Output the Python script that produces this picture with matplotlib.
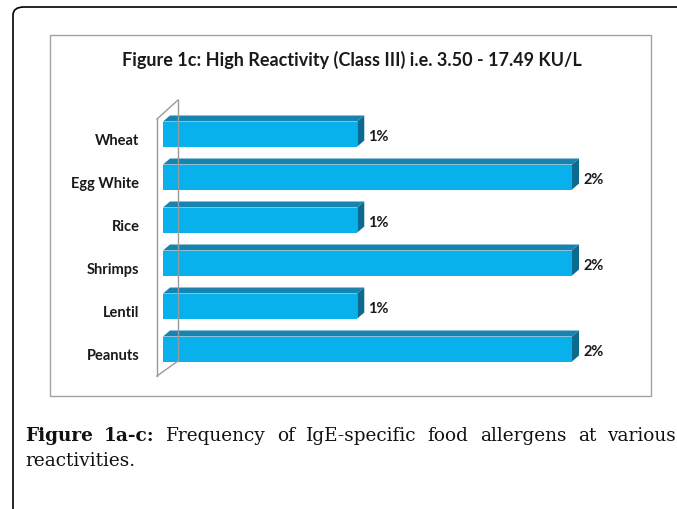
import numpy as np
import matplotlib
matplotlib.use("Agg")
import matplotlib.pyplot as plt
from matplotlib.patches import Polygon, FancyBboxPatch, Rectangle
from matplotlib.lines import Line2D

# data (top to bottom as shown)
foods = ["Wheat", "Egg White", "Rice", "Shrimps", "Lentil", "Peanuts"]
values = [0.95, 2.0, 0.95, 2.0, 0.95, 2.0]
labels = ["1%", "2%", "1%", "2%", "1%", "2%"]

title = "Figure 1c: High Reactivity (Class III) i.e. 3.50 - 17.49 KU/L"
cap_bold = "Figure 1a-c:"
cap_rest = "Frequency of IgE-specific food allergens at various"
cap_line2 = "reactivities."

W, H = 677, 510
fig = plt.figure(figsize=(W / 100, H / 100), dpi=100)


def px(x, y):
    return x / W, 1 - y / H


# outer rounded frame and inner chart border
outer = FancyBboxPatch(px(13, 560), (720 - 13) / W, (560 - 8) / H,
                       boxstyle="round,pad=0,rounding_size=0.016",
                       transform=fig.transFigure, fill=False,
                       ec="black", lw=1.2)
fig.patches.append(outer)
fig.patches.append(Rectangle(px(50, 397), (651 - 50) / W, (397 - 36) / H,
                             transform=fig.transFigure, fill=False,
                             ec="#a3a3a3", lw=1.0))

fig.text(*px(352, 60), title, ha="center", va="center", fontsize=13,
         fontweight="bold", family="Lato", color="#1a1a1a")

# 3d wall
wall = "#9a9a9a"
for (x1, y1), (x2, y2) in [((157, 120), (157, 377)), ((157, 120), (178, 101)),
                           ((178, 101), (178, 362)), ((157, 377), (178, 362))]:
    fig.lines.append(Line2D([x1 / W, x2 / W], [1 - y1 / H, 1 - y2 / H],
                            transform=fig.transFigure, color=wall, lw=1.0))

# bars
unit_x, unit_y = 204.5, 43.0
xmax, ylo, yhi = 2.3, -0.7, 5.7
left = 163
bottom = 350 + (0 - ylo) * unit_y
ax = fig.add_axes([left / W, 1 - bottom / H, xmax * unit_x / W,
                   (yhi - ylo) * unit_y / H])
ax.set_xlim(0, xmax)
ax.set_ylim(ylo, yhi)
ax.axis("off")

ypos = np.arange(len(foods))[::-1]
bh = 25 / unit_y
dx, dy = 7 / unit_x, 6 / unit_y
front, top, side = "#08b0ec", "#1784b0", "#0b6a8f"

ax.barh(ypos, values, height=bh, color=front, zorder=3)
for y, v, lab, name in zip(ypos, values, labels, foods):
    yt = y + bh / 2
    yb = y - bh / 2
    ax.add_patch(Polygon([(0, yt), (dx, yt + dy), (v + dx, yt + dy), (v, yt)],
                         closed=True, color=top, lw=0, zorder=3))
    ax.add_patch(Polygon([(v, yt), (v + dx, yt + dy), (v + dx, yb + dy), (v, yb)],
                         closed=True, color=side, lw=0, zorder=3))
    ax.annotate(lab, (v + dx, y), xytext=(3, -1.5), textcoords="offset points",
                ha="left", va="center", fontsize=10.5, fontweight="bold",
                family="Lato", color="#1a1a1a")
    ax.annotate(name, (0, y), xycoords=("axes fraction", "data"),
                xytext=(-17, -4), textcoords="offset points",
                ha="right", va="center", fontsize=10.5, fontweight="bold",
                family="Lato", color="#1a1a1a")

# caption, justified first line
r = fig.canvas.get_renderer()
words = [(w, "bold") for w in cap_bold.split()] + [(w, "normal") for w in cap_rest.split()]
objs = []
for w, wt in words:
    t = fig.text(0, 1 - 441 / H, w, fontsize=13.3, fontweight=wt,
                 family="DejaVu Serif", va="baseline", color="#111111")
    objs.append(t)
widths = [t.get_window_extent(r).width for t in objs]
x0, x1 = 25, 676
gap = (x1 - x0 - sum(widths)) / (len(objs) - 1)
x = x0
for t, wd in zip(objs, widths):
    t.set_x(x / W)
    x += wd + gap
fig.text(x0 / W, 1 - 466 / H, cap_line2, fontsize=13.3,
         family="DejaVu Serif", va="baseline", color="#111111")

fig.savefig("out.png", dpi=100)
